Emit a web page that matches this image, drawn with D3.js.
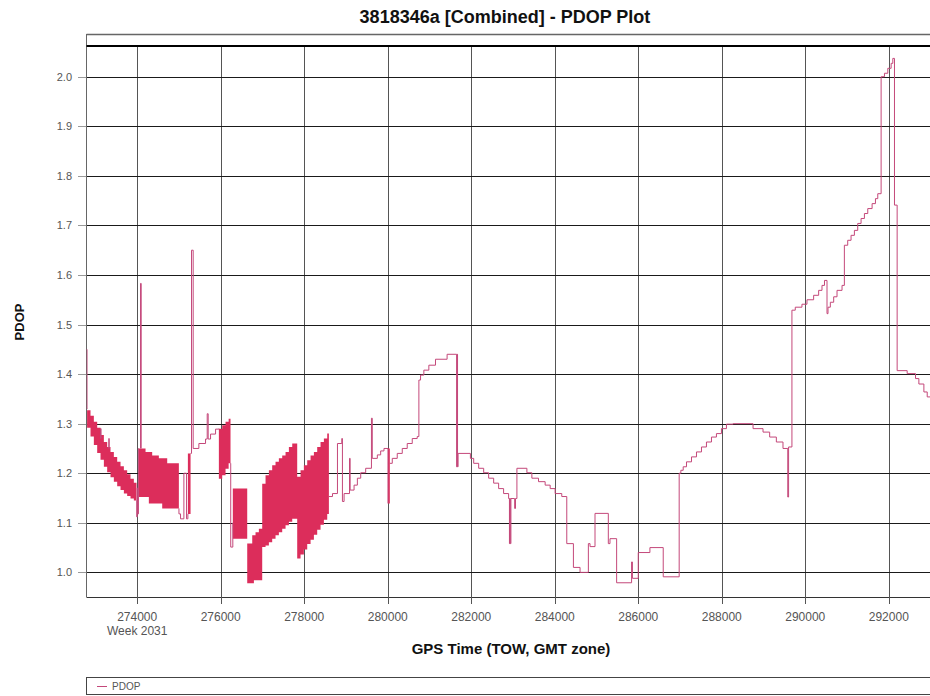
<!DOCTYPE html>
<html><head><meta charset="utf-8">
<script src="https://cdn.jsdelivr.net/npm/d3@7"></script>
<style>body{margin:0;background:#fff;} svg{display:block;font-family:"Liberation Sans",Arial,sans-serif;}</style>
</head><body><svg id="c" width="930" height="696"></svg>
<script>
const chartTitle = "3818346a [Combined] - PDOP Plot";
const xTitle = "GPS Time (TOW, GMT zone)";
const yTitle = "PDOP";
const seriesName = "PDOP";
const weekLabel = "Week 2031";
const yTicks = [1.0,1.1,1.2,1.3,1.4,1.5,1.6,1.7,1.8,1.9,2.0];
const xTicks = [274000,276000,278000,280000,282000,284000,286000,288000,290000,292000];

// thin stepped PDOP trace (null = break)
const lineTimes = [
 272786,272798,272805,null,
 273115,273122,273135,null,
 273315,273320,273330,null,
 273984,273990,274000,274012,274030,274040,null,
 274078,274080,274096,null,
 274998,275000,275038,275118,275182,275214,null,
 275278,275301,275341,275477,275637,275677,275700,275757,275877,275956,null,
 276230,276240,276290,null,
 278591,278677,278796,278900,278915,278955,279085,279100,279194,279273,279353,279472,279610,279630,279751,279831,279910,280006,null,
 280050,280109,280228,280348,280467,280587,280706,280746,280786,280865,280985,281144,281422,281650,281661,281672,281685,281980,282059,282178,282298,282417,282537,282656,282775,282895,282915,282925,282935,282950,283040,283060,283094,283333,283452,283611,283770,283890,284009,284168,284288,284447,284606,284805,284845,284964,285283,285323,285482,285840,285860,286000,286279,286598,286980,287020,287076,287155,287275,287394,287514,287633,287753,287872,287992,288112,288271,288749,288988,289147,289307,289466,289580,289600,289680,289760,289920,290040,290200,290320,290400,290460,290520,290544,290600,290680,290760,290880,290936,291016,291096,291176,291256,291336,291416,291496,291600,291680,291736,291816,291896,291976,292056,292096,292136,292200,292440,292640,292720,292840,292920,293000,293100
];
const lineValues = [
 1.45,1.33,1.33,null,
 1.27,1.29,1.27,null,
 1.25,1.27,1.25,null,
 1.145,1.112,1.17,1.118,1.25,1.25,null,
 1.25,1.583,1.25,null,
 1.129,1.118,1.108,1.2,1.108,1.118,null,
 1.24,1.65,1.25,1.26,1.269,1.32,1.269,1.279,1.289,1.29,null,
 1.22,1.051,1.10,null,
 1.153,1.159,1.26,1.27,1.143,1.159,1.23,1.166,1.176,1.19,1.201,1.21,1.311,1.23,1.237,1.245,1.25,1.139,null,
 1.22,1.23,1.24,1.25,1.26,1.27,1.274,1.388,1.398,1.408,1.418,1.43,1.44,1.213,1.44,1.213,1.24,1.23,1.22,1.21,1.201,1.19,1.18,1.169,1.159,1.149,1.058,1.149,1.058,1.149,1.129,1.149,1.21,1.201,1.19,1.183,1.176,1.169,1.159,1.153,1.058,1.01,1.0,1.058,1.052,1.119,1.058,1.068,0.979,1.021,0.988,1.04,1.05,0.991,1.2,1.206,1.213,1.223,1.233,1.243,1.253,1.263,1.273,1.28,1.29,1.299,1.3,1.29,1.283,1.273,1.263,1.25,1.152,1.253,1.529,1.535,1.541,1.55,1.559,1.569,1.579,1.589,1.522,1.535,1.545,1.556,1.569,1.579,1.66,1.67,1.68,1.69,1.704,1.714,1.724,1.734,1.744,1.754,1.764,2.0,2.007,2.017,2.027,2.037,1.741,1.407,1.401,1.391,1.38,1.364,1.354,1.343,1.343
];

// rapidly alternating stretches, drawn as filled min/max envelopes (null = break)
const bandTimes = [
 272800,272882,272962,273042,273122,273202,273281,273361,273441,273521,273601,273681,273760,273840,273920,273984,null,
 274040,274200,274279,274359,274519,274599,274719,274998,null,
 275214,275278,null,
 275956,276036,276116,276190,276235,null,
 276290,276635,276755,276795,276834,276914,276994,277074,277154,277233,277313,277393,277473,277553,277633,277713,277832,277912,277992,278072,278152,278232,278311,278391,278471,278551,278591,null,
 280006,280050
];
const bandHigh = [
 1.327,1.316,1.304,1.292,1.277,1.263,1.253,1.243,1.233,1.223,1.214,1.206,1.198,1.189,1.181,1.181,null,
 1.250,1.243,1.243,1.236,1.230,1.230,1.220,1.220,null,
 1.240,1.240,null,
 1.290,1.297,1.304,1.310,1.310,null,
 1.169,1.058,1.075,1.075,1.081,1.088,1.179,1.196,1.206,1.216,1.223,1.230,1.236,1.243,1.253,1.260,1.193,1.206,1.216,1.226,1.236,1.243,1.253,1.263,1.270,1.280,1.280,null,
 1.25,1.25
];
const bandLow = [
 1.292,1.274,1.257,1.241,1.227,1.213,1.202,1.192,1.183,1.174,1.166,1.159,1.154,1.149,1.145,1.145,null,
 1.152,1.152,1.139,1.139,1.139,1.129,1.129,1.129,null,
 1.118,1.118,null,
 1.189,1.196,1.209,1.220,1.220,null,
 1.068,0.978,0.978,0.984,0.984,0.984,1.051,1.054,1.061,1.068,1.075,1.081,1.088,1.095,1.102,1.108,1.028,1.036,1.046,1.057,1.066,1.076,1.086,1.096,1.106,1.118,1.118,null,
 1.139,1.139
];

const svg = d3.select("#c");
const L = 86.5, R = 935, T = 46, B = 597;
const x = d3.scaleLinear().domain([272786, 293100]).range([L, L + (293100-272786)*0.041756]);
const y = d3.scaleLinear().domain([0.9503, 2.062]).range([B, T]);

const lineData = lineTimes.map((t,i)=>({t, v: lineValues[i]}));
const bandData = bandTimes.map((t,i)=>({t, hi: bandHigh[i], lo: bandLow[i]}));

svg.append("defs").append("clipPath").attr("id","clip")
  .append("rect").attr("x",L).attr("y",T).attr("width",R-L).attr("height",B-T);

// outer frame pieces
svg.append("line").attr("x1",L).attr("x2",R).attr("y1",34.5).attr("y2",34.5).attr("stroke","#666").attr("stroke-width",1.5);
svg.append("line").attr("x1",L).attr("x2",L).attr("y1",34).attr("y2",B).attr("stroke","#666");

// grid
const g = svg.append("g");
g.selectAll(".vg").data(xTicks).join("line")
  .attr("x1",d=>Math.round(x(d))+0.5).attr("x2",d=>Math.round(x(d))+0.5)
  .attr("y1",T).attr("y2",B).attr("stroke","#555").attr("stroke-width",1);
g.selectAll(".hg").data(yTicks).join("line")
  .attr("x1",L).attr("x2",R)
  .attr("y1",d=>Math.round(y(d))+0.5).attr("y2",d=>Math.round(y(d))+0.5)
  .attr("stroke","#1a1a1a").attr("stroke-width",1);
svg.append("line").attr("x1",L).attr("x2",R).attr("y1",T).attr("y2",T).attr("stroke","#000").attr("stroke-width",2.2);
svg.append("line").attr("x1",L).attr("x2",R).attr("y1",B+0.5).attr("y2",B+0.5).attr("stroke","#333");

// data
const plot = svg.append("g").attr("clip-path","url(#clip)");
const area = d3.area().defined(d=>d.hi!=null).curve(d3.curveStepAfter)
  .x(d=>x(d.t)).y0(d=>y(d.lo)).y1(d=>y(d.hi));
plot.append("path").datum(bandData).attr("d",area).attr("fill","#dc2d5b");
const line = d3.line().defined(d=>d.v!=null).curve(d3.curveStepAfter)
  .x(d=>x(d.t)).y(d=>y(d.v));
plot.append("path").datum(lineData).attr("d",line).attr("fill","none")
  .attr("stroke","#c4487a").attr("stroke-width",1);

// y axis ticks/labels
const ya = svg.append("g");
ya.selectAll("line").data(yTicks).join("line")
  .attr("x1",78).attr("x2",L).attr("y1",d=>Math.round(y(d))+0.5).attr("y2",d=>Math.round(y(d))+0.5)
  .attr("stroke","#999");
ya.selectAll("text").data(yTicks).join("text")
  .attr("x",72).attr("y",d=>y(d)+4).attr("text-anchor","end")
  .attr("font-size",11).attr("fill","#555").text(d=>d3.format(".1f")(d));

// x axis ticks/labels
const xa = svg.append("g");
xa.selectAll("line").data(xTicks).join("line")
  .attr("x1",d=>Math.round(x(d))+0.5).attr("x2",d=>Math.round(x(d))+0.5).attr("y1",B).attr("y2",B+7)
  .attr("stroke","#555");
xa.selectAll("text").data(xTicks).join("text")
  .attr("x",d=>x(d)).attr("y",B+24).attr("text-anchor","middle")
  .attr("font-size",12).attr("fill","#555").text(d=>d);
xa.append("text").attr("x",x(xTicks[0])).attr("y",B+38).attr("text-anchor","middle")
  .attr("font-size",12).attr("fill","#555").text(weekLabel);

// titles
svg.append("text").attr("x",505).attr("y",23).attr("text-anchor","middle")
  .attr("font-size",18).attr("font-weight","bold").attr("fill","#111").text(chartTitle);
svg.append("text").attr("x",511).attr("y",654).attr("text-anchor","middle")
  .attr("font-size",15).attr("font-weight","bold").attr("fill","#111").text(xTitle);
svg.append("text").attr("transform","translate(24,322) rotate(-90)").attr("text-anchor","middle")
  .attr("font-size",13).attr("font-weight","bold").attr("fill","#111").text(yTitle);

// legend
svg.append("rect").attr("x",86.5).attr("y",677.5).attr("width",860).attr("height",17)
  .attr("fill","none").attr("stroke","#444");
svg.append("line").attr("x1",97).attr("x2",107).attr("y1",686.5).attr("y2",686.5).attr("stroke","#c4487a");
svg.append("text").attr("x",112).attr("y",690).attr("font-size",10).attr("fill","#555").text(seriesName);
</script></body></html>
